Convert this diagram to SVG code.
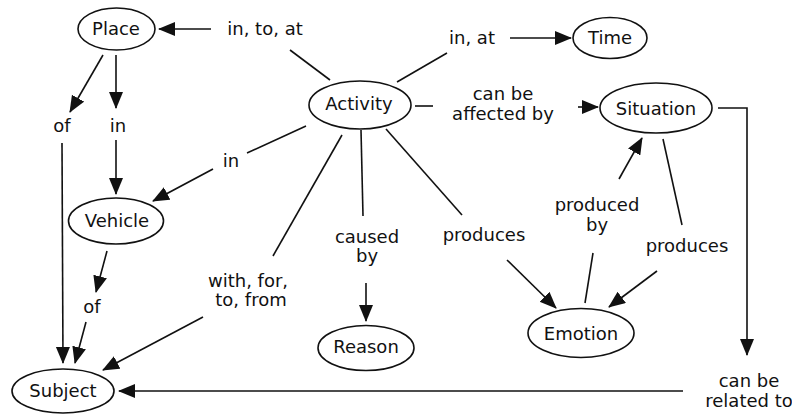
<svg xmlns="http://www.w3.org/2000/svg" width="792" height="415" viewBox="0 0 792 415">
<style>
text{font-family:"DejaVu Sans","Liberation Sans",sans-serif;font-size:18px;fill:#111;text-anchor:middle}
ellipse{fill:#fff;stroke:#111;stroke-width:1.6}
.c line,.c polyline{stroke:#111;stroke-width:1.6;fill:none}
.a{marker-end:url(#ah)}
</style>
<defs>
<marker id="ah" markerUnits="userSpaceOnUse" markerWidth="18" markerHeight="16" refX="16" refY="7" orient="auto">
<path d="M0,0 L17,7 L0,14 z" fill="#111"/>
</marker>
</defs>
<g class="c" id="connectors">
<line x1="290" y1="50" x2="330" y2="80"/>
<line class="a" x1="211" y1="29" x2="159" y2="29"/>
<line x1="397" y1="82" x2="447" y2="53"/>
<line class="a" x1="510" y1="38" x2="571" y2="38"/>
<line x1="415" y1="106" x2="433" y2="106"/>
<line class="a" x1="578" y1="107" x2="598" y2="107"/>
<polyline class="a" points="718,108 747,108 747,355"/>
<line class="a" x1="683" y1="391" x2="119" y2="391"/>
<line class="a" x1="103" y1="55" x2="70" y2="112"/>
<line class="a" x1="62" y1="143" x2="63" y2="363"/>
<line class="a" x1="116" y1="55" x2="116" y2="108"/>
<line class="a" x1="116" y1="140" x2="116" y2="194"/>
<line x1="306" y1="126" x2="247" y2="153"/>
<line class="a" x1="213" y1="169" x2="153" y2="201"/>
<line class="a" x1="107" y1="251" x2="96" y2="292"/>
<line class="a" x1="86" y1="322" x2="75" y2="363"/>
<line x1="342" y1="135" x2="273" y2="256"/>
<line class="a" x1="203" y1="317" x2="103" y2="370"/>
<line x1="361" y1="130" x2="363" y2="216"/>
<line class="a" x1="366" y1="283" x2="366" y2="321"/>
<line x1="386" y1="129" x2="462" y2="215"/>
<line class="a" x1="507" y1="260" x2="556" y2="308"/>
<line x1="585" y1="303" x2="593" y2="253"/>
<line class="a" x1="619" y1="179" x2="642" y2="138"/>
<line x1="663" y1="139" x2="682" y2="225"/>
<line class="a" x1="657" y1="271" x2="609" y2="307"/>
</g>
<g id="labels">
<text x="265" y="35">in, to, at</text>
<text x="472" y="44">in, at</text>
<text x="503" y="100">can be</text>
<text x="503" y="120">affected by</text>
<text x="62" y="132">of</text>
<text x="118" y="132">in</text>
<text x="231" y="167">in</text>
<text x="367" y="243">caused</text>
<text x="367" y="262">by</text>
<text x="484" y="241">produces</text>
<text x="597" y="211">produced</text>
<text x="597" y="231">by</text>
<text x="687" y="252">produces</text>
<text x="248" y="287">with, for,</text>
<text x="251" y="306">to, from</text>
<text x="92" y="313">of</text>
<text x="749" y="387">can be</text>
<text x="749" y="407">related to</text>
</g>
<g id="place"><ellipse cx="116.5" cy="29" rx="38.5" ry="21"/><text x="116" y="35">Place</text></g>
<g id="time"><ellipse cx="610" cy="38" rx="37" ry="20.5"/><text x="610" y="44">Time</text></g>
<g id="activity"><ellipse cx="360" cy="105" rx="51" ry="24"/><text x="359" y="110">Activity</text></g>
<g id="situation"><ellipse cx="656" cy="108" rx="56" ry="25"/><text x="656" y="115">Situation</text></g>
<g id="vehicle"><ellipse cx="116" cy="221" rx="47.5" ry="23"/><text x="117" y="227">Vehicle</text></g>
<g id="reason"><ellipse cx="366" cy="348" rx="48" ry="22.5"/><text x="366" y="353">Reason</text></g>
<g id="emotion"><ellipse cx="581" cy="333" rx="53" ry="24.5"/><text x="581" y="340">Emotion</text></g>
<g id="subject"><ellipse cx="63" cy="391" rx="51" ry="22"/><text x="63" y="397">Subject</text></g>
</svg>
